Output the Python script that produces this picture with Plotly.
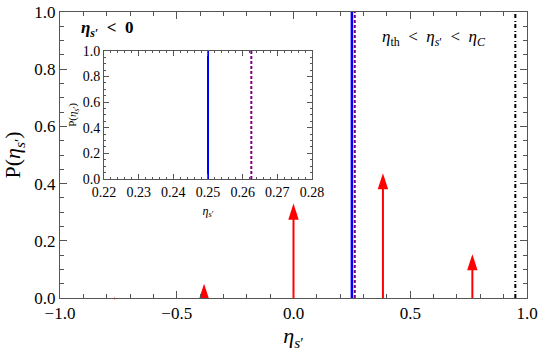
import plotly.graph_objects as go

# data
arrow_x = [-0.766, -0.383, 0.0, 0.383, 0.766]
arrow_p = [0.004, 0.05, 0.33, 0.436, 0.153]
eta_th = 0.25
eta_s = 0.2625
eta_c = 0.95

FONT = "Liberation Serif, Times New Roman, serif"
FRAME = "#555555"
W, H = 540, 357
M = dict(l=60, r=13, t=12, b=59, autoexpand=False)
plot_h = H - M["t"] - M["b"]
head_px = 16  # arrowhead height in px

fig = go.Figure()

# red arrows: shaft + head
for x, p in zip(arrow_x, arrow_p):
    len_px = p * plot_h
    size = min(head_px, max(2.5, len_px)) / 0.95
    shaft_top = max(0, p - 0.5 * head_px / plot_h)
    fig.add_trace(go.Scatter(
        x=[x, x], y=[0, shaft_top], mode="lines",
        line=dict(color="red", width=2), hoverinfo="skip",
    ))
    fig.add_trace(go.Scatter(
        x=[x], y=[p], mode="markers",
        marker=dict(symbol="arrow", size=size, color="red", line=dict(width=0)),
        cliponaxis=False, hoverinfo="skip",
    ))

# vertical reference lines, main plot
fig.add_trace(go.Scatter(x=[eta_th, eta_th], y=[0, 1], mode="lines",
                         line=dict(color="blue", width=2.5)))
fig.add_trace(go.Scatter(x=[eta_s, eta_s], y=[0, 1], mode="lines",
                         line=dict(color="rgb(128,0,128)", width=2, dash="3px,2px")))
fig.add_trace(go.Scatter(x=[eta_c, eta_c], y=[0, 1], mode="lines",
                         line=dict(color="black", width=2, dash="4px,2px,1px,3px")))

# inset
fig.add_trace(go.Scatter(x=[eta_th, eta_th], y=[0, 1], mode="lines",
                         line=dict(color="blue", width=2), xaxis="x2", yaxis="y2"))
fig.add_trace(go.Scatter(x=[eta_s, eta_s], y=[0, 1], mode="lines",
                         line=dict(color="rgb(128,0,128)", width=2, dash="3px,2px"),
                         xaxis="x2", yaxis="y2"))

axis_common = dict(
    showline=True, mirror="allticks", linecolor=FRAME, linewidth=1,
    ticks="inside", tickcolor=FRAME, showgrid=False, zeroline=False,
    automargin=False, tickmode="linear",
    tickfont=dict(family=FONT, size=17, color="black"),
)

fig.update_layout(
    width=W, height=H, margin=M,
    plot_bgcolor="white", paper_bgcolor="white",
    showlegend=False,
    font=dict(family=FONT, color="black"),
    xaxis=dict(
        axis_common, range=[-1, 1], domain=[0, 1],
        tick0=-1, dtick=0.5, tickformat=".1f", ticklen=7,
        minor=dict(dtick=0.1, ticklen=4, tickcolor=FRAME, ticks="inside"),
        title=dict(text="<i>η</i><sub><i>s</i>′</sub>", font=dict(size=22), standoff=2),
    ),
    yaxis=dict(
        axis_common, range=[0, 1], domain=[0, 1],
        tick0=0, dtick=0.2, tickformat=".1f", ticklen=7,
        minor=dict(dtick=0.05, ticklen=4, tickcolor=FRAME, ticks="inside"),
        title=dict(text="P(<i>η</i><sub><i>s</i>′</sub>)", font=dict(size=22), standoff=8),
    ),
    xaxis2=dict(
        axis_common, range=[0.22, 0.28], domain=[0.0942, 0.5396], anchor="y2",
        tick0=0.22, dtick=0.01, tickformat=".2f", ticklen=5,
        tickfont=dict(family=FONT, size=14, color="black"),
        minor=dict(dtick=0.002, ticklen=2, tickcolor=FRAME, ticks="inside"),
        title=dict(text="<i>η</i><sub><i>s</i>′</sub>", font=dict(size=12), standoff=7),
    ),
    yaxis2=dict(
        axis_common, range=[0, 1], domain=[0.416, 0.864], anchor="x2",
        tick0=0, dtick=0.2, tickformat=".1f", ticklen=5,
        tickfont=dict(family=FONT, size=14, color="black"),
        minor=dict(dtick=0.05, ticklen=2, tickcolor=FRAME, ticks="inside"),
        title=dict(text="P(<i>η</i><sub><i>s</i>′</sub>)", font=dict(size=11), standoff=3),
    ),
    annotations=[
        dict(text="<b><i>η</i><sub><i>s</i>′</sub>\u00a0\u00a0&lt;\u00a0\u00a00</b>",
             xref="paper", yref="paper", x=0.04, y=0.94, xanchor="left", yanchor="middle",
             showarrow=False, font=dict(family=FONT, size=17)),
        dict(text="<i>η</i><sub>th</sub>\u00a0\u00a0&lt;\u00a0\u00a0<i>η</i><sub><i>s</i>′</sub>"
                  "\u00a0\u00a0&lt;\u00a0\u00a0<i>η</i><sub><i>C</i></sub>",
             xref="paper", yref="paper", x=0.685, y=0.91, xanchor="left", yanchor="middle",
             showarrow=False, font=dict(family=FONT, size=17)),
    ],
)

# page body has a default 8px margin; remove it so the figure sits at the top-left
fig.write_html("out.html", config={"displayModeBar": False},
               post_script="document.body.style.margin='0px';")
